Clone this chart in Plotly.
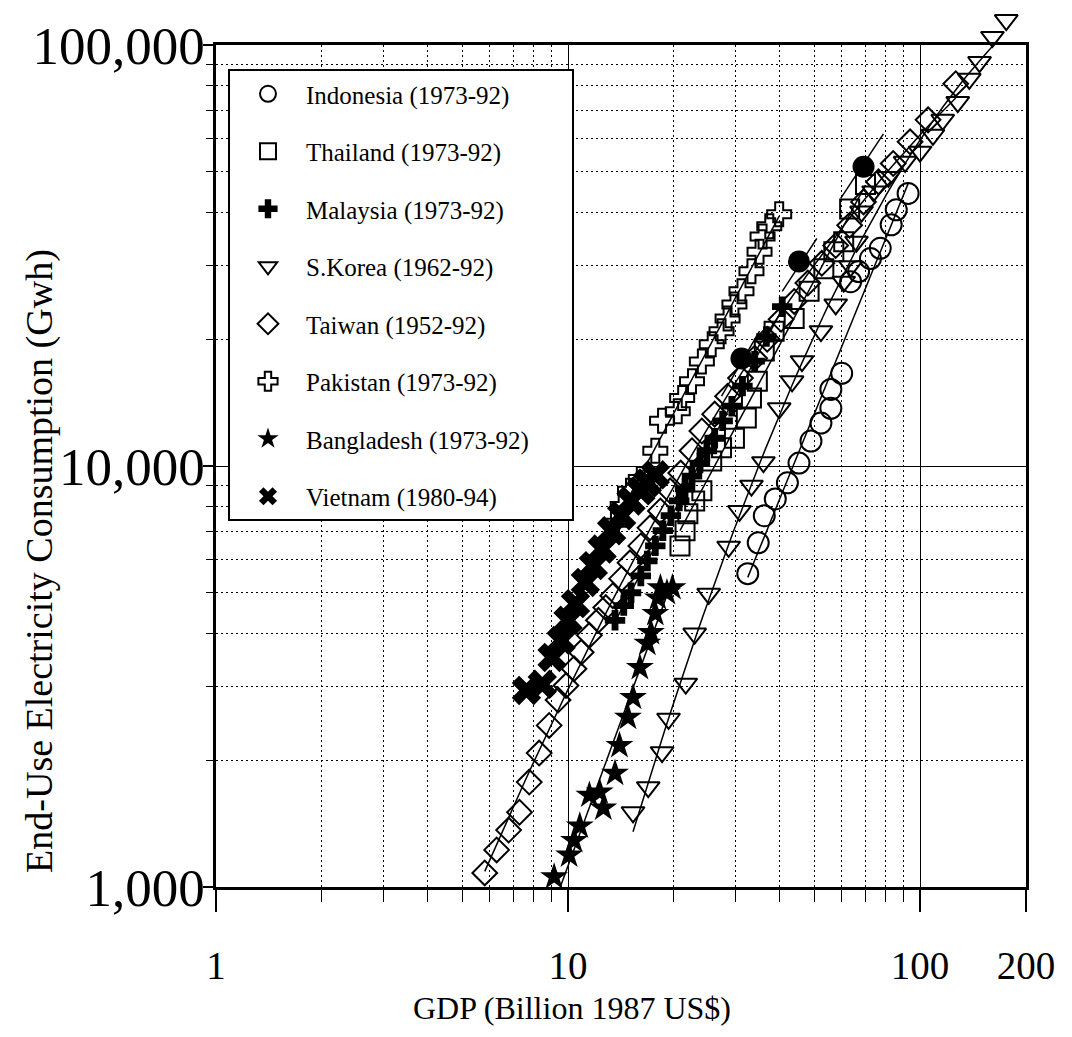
import numpy as np
import plotly.graph_objects as go

# ---------------- data (GDP in billion 1987 US$, consumption in GWh) ----------------
indonesia_gdp = [32.4, 34.7, 36.1, 38.8, 42.0, 45.3, 49.0, 52.3, 55.8, 55.8, 59.9,
                 63.5, 66.9, 72.3, 77.1, 82.8, 85.6, 92.5]
indonesia_elec = [5550, 6570, 7620, 8350, 9120, 10160, 11460, 12650, 13710, 15200, 16600,
                  27400, 28970, 31100, 32900, 37400, 40600, 44400]

thailand_gdp = [20.8, 21.5, 21.9, 22.9, 24.0, 25.6, 27.3, 29.7, 32.1, 33.2, 34.5, 36.1,
                38.5, 43.9, 48.4, 53.3, 56.9, 60.7, 63.1, 70.0]
thailand_elec = [6460, 7020, 7700, 8260, 8730, 10280, 11050, 11640, 13000, 14500, 15900,
                 18750, 20900, 22400, 26000, 29400, 32300, 34100, 40800, 46600]

malaysia_gdp = [13.6, 14.4, 15.1, 16.1, 16.8, 17.7, 18.6, 19.6, 20.7, 21.5, 22.5, 23.7,
                24.8, 26.1, 27.5, 29.2, 31.3, 33.9, 36.6, 40.6]
malaysia_elec = [4300, 4660, 5000, 5480, 5950, 6460, 7020, 7620, 8260, 8820, 9460, 10160,
                 10870, 11640, 12800, 13870, 15480, 17740, 20300, 23900]

korea_gdp = [15.3, 16.9, 18.5, 19.3, 21.6, 22.9, 25.1, 28.6, 30.7, 33.2, 35.9, 39.8, 43.3,
             46.2, 52.3, 57.6, 60.7, 63.5, 66.0, 68.2, 73.8, 81.3, 90.7, 100.0, 108.8,
             116.0, 128.0, 138.0, 147.6, 160.6, 175.8]
korea_elec = [1505, 1726, 2090, 2510, 3040, 4000, 4970, 6430, 7820, 8980, 10210, 13710,
              15890, 17740, 20900, 24200, 27400, 29800, 34100, 40200, 44900, 48600, 52800,
              55800, 61200, 66400, 73200, 83100, 91100, 104500, 114600]

taiwan_gdp = [5.80, 6.27, 6.78, 7.28, 7.76, 8.28, 8.84, 9.37, 9.87, 10.4, 10.9, 11.5, 12.2,
              12.8, 13.4, 14.2, 15.0, 16.1, 17.1, 18.3, 19.5, 20.9, 22.5, 24.0, 26.1, 28.4,
              30.9, 33.9, 36.8, 40.3, 43.9, 48.0, 52.6, 57.6, 63.1, 69.1, 76.2, 83.9, 93.7,
              105.4, 126.3]
taiwan_elec = [1080, 1225, 1365, 1505, 1775, 2080, 2420, 2780, 3010, 3300, 3610, 3960, 4300,
               4610, 4920, 5400, 5890, 6460, 7130, 7820, 8730, 9620, 10870, 12110, 13280,
               14650, 16180, 18030, 20000, 22300, 24600, 27200, 30300, 33400, 37300, 42400,
               47300, 52300, 58900, 66400, 80900]

pakistan_gdp = [13.6, 14.3, 15.0, 16.1, 17.7, 18.5, 20.5, 21.1, 22.5, 24.0, 25.6, 27.3,
                28.4, 29.7, 31.1, 33.2, 35.0, 35.7, 37.3, 39.8]
pakistan_elec = [7330, 8040, 8730, 9310, 10870, 12800, 13500, 14500, 15900, 17700, 19460,
                 20900, 22400, 24200, 26000, 29000, 32300, 35100, 37100, 39600]

bangladesh_gdp = [9.13, 10.07, 10.4, 10.8, 11.5, 12.3, 12.6, 13.6, 14.0, 14.8, 15.3, 16.0,
                  16.8, 17.2, 17.7, 18.0, 18.3, 19.1, 19.8]
bangladesh_elec = [1057, 1191, 1290, 1396, 1652, 1680, 1540, 1862, 2168, 2530, 2820, 3320,
                   3790, 4020, 4460, 4860, 5140, 5000, 5140]

vietnam_gdp = [7.62, 8.45, 9.01, 9.56, 10.0, 10.5, 11.2, 11.8, 12.5, 13.3, 14.2, 15.1,
               16.1, 16.8, 17.7]
vietnam_elec = [2930, 3030, 3510, 3850, 4300, 4710, 5290, 5800, 6350, 7020, 7620, 8260,
                8730, 9120, 9530]

# filled (unlabelled) points and the short segments through them
proj_gdp = [31.1, 45.3, 69.1]
proj_elec = [18000, 30600, 51400]
seg_gdp = [27.3, 35.0, None, 40.6, 50.9, None, 59.5, 78.7]
seg_elec = [14650, 20900, None, 26000, 34700, None, 43200, 61500]

x_tickvals = [1, 10, 100, 200]
x_ticktext = ["1", "10", "100", "200"]
y_tickvals = [1000, 10000, 100000]
y_ticktext = ["1,000", "10,000", "100,000"]
x_minor = [2, 3, 4, 5, 6, 7, 8, 9, 20, 30, 40, 50, 60, 70, 80, 90]
y_minor = [2000, 3000, 4000, 5000, 6000, 7000, 8000, 9000,
           20000, 30000, 40000, 50000, 60000, 70000, 80000, 90000]

series = [
    ("Indonesia (1973-92)", indonesia_gdp, indonesia_elec, "circle-open", 21, 1),
    ("Thailand (1973-92)", thailand_gdp, thailand_elec, "square-open", 19, 1),
    ("Malaysia (1973-92)", malaysia_gdp, malaysia_elec, "cross", 17, 1),
    ("S.Korea (1962-92)", korea_gdp, korea_elec, "triangle-down-open", 20, 2),
    ("Taiwan (1952-92)", taiwan_gdp, taiwan_elec, "diamond-open", 19, 2),
    ("Pakistan (1973-92)", pakistan_gdp, pakistan_elec, "cross-open", 20, 1),
    ("Bangladesh (1973-92)", bangladesh_gdp, bangladesh_elec, "star", 21, 1),
    ("Vietnam (1980-94)", vietnam_gdp, vietnam_elec, "x", 26, 0),
]

SERIF = "Liberation Serif, Times New Roman, serif"
LEGEND_PAD = "\u00a0" * 6   # extra room on the right of the legend box

# geometry: main panel, plus an invisible taller twin panel so the last
# S.Korea points (above 100,000) can be shown above the frame as in the original
PLOT_H = 877.0
MAIN_FRAC = 842.0 / PLOT_H
Y_LOG = [3, 5]
Y2_TOP = Y_LOG[0] + (Y_LOG[1] - Y_LOG[0]) / MAIN_FRAC
X_LOG = [0, float(np.log10(200))]

fig = go.Figure()

# fitted trend lines (log-log), drawn first so they sit under the markers
for name, gx, gy, sym, size, deg in series:
    if deg == 0:
        continue
    lx = np.log10(gx)
    ly = np.log10(gy)
    coef = np.polyfit(lx, ly, deg)
    xs = np.linspace(lx.min(), lx.max(), 60)
    ys = np.polyval(coef, xs)
    fig.add_trace(go.Scatter(x=10 ** xs, y=10 ** ys, mode="lines",
                             line=dict(color="black", width=1.5),
                             showlegend=False, hoverinfo="skip"))

fig.add_trace(go.Scatter(x=seg_gdp, y=seg_elec, mode="lines",
                         line=dict(color="black", width=1.5),
                         showlegend=False, hoverinfo="skip", connectgaps=False))

for name, gx, gy, sym, size, deg in series:
    filled = sym in ("cross", "star", "x")
    on_tall = name.startswith("S.Korea")
    fig.add_trace(go.Scatter(
        x=gx, y=gy, mode="markers", name=name + LEGEND_PAD, legendgroup=name,
        xaxis="x2" if on_tall else "x", yaxis="y2" if on_tall else "y",
        marker=dict(symbol=sym, size=size, color="black",
                    line=dict(color="black", width=0 if filled else 2)),
    ))

fig.add_trace(go.Scatter(x=proj_gdp, y=proj_elec, mode="markers", showlegend=False,
                         marker=dict(symbol="circle", size=22, color="black")))

axis_common = dict(
    type="log", showline=True, linecolor="black", linewidth=2.5, mirror=True,
    showgrid=True, gridcolor="black", gridwidth=1.3, zeroline=False,
    ticks="outside", tickcolor="black", tickwidth=1.5, automargin=False,
)

fig.update_layout(
    xaxis=dict(**axis_common, range=X_LOG, domain=[0, 1], anchor="y",
               tickvals=x_tickvals, ticktext=x_ticktext, ticklen=22,
               ticklabelstandoff=20,
               tickfont=dict(family=SERIF, color="black", size=39),
               minor=dict(tickvals=x_minor, ticks="outside", ticklen=12,
                          tickcolor="black", tickwidth=1.3,
                          showgrid=True, gridcolor="black", gridwidth=1.2,
                          griddash="2px,3px")),
    yaxis=dict(**axis_common, range=Y_LOG, domain=[0, MAIN_FRAC], anchor="x",
               tickvals=y_tickvals, ticktext=y_ticktext, ticklen=10,
               ticklabelstandoff=-12,
               tickfont=dict(family=SERIF, color="black", size=53),
               minor=dict(tickvals=y_minor, ticks="outside", ticklen=7,
                          tickcolor="black", tickwidth=1.3,
                          showgrid=True, gridcolor="black", gridwidth=1.2,
                          griddash="2px,3px")),
    xaxis2=dict(type="log", range=X_LOG, domain=[0, 1], anchor="y2",
                visible=False, showgrid=False, automargin=False),
    yaxis2=dict(type="log", range=[Y_LOG[0], Y2_TOP], domain=[0, 1], anchor="x2",
                visible=False, showgrid=False, automargin=False),
)

fig.add_annotation(text="GDP (Billion 1987 US$)", xref="paper", yref="paper",
                   x=0.4395, y=-0.1380, showarrow=False, xanchor="center", yanchor="middle",
                   font=dict(family=SERIF, size=32, color="black"))
fig.add_annotation(text="End-Use Electricity Consumption (Gwh)", xref="paper", yref="paper",
                   x=-0.2173, y=0.3718, showarrow=False, textangle=-90,
                   xanchor="center", yanchor="middle",
                   font=dict(family=SERIF, size=38, color="black"))

fig.update_layout(
    width=1072, height=1037,
    margin=dict(l=208, r=54, t=2, b=158, autoexpand=False),
    paper_bgcolor="white", plot_bgcolor="rgba(0,0,0,0)",
    showlegend=True,
    legend=dict(x=0.0148, y=0.9327, xanchor="left", yanchor="top",
                bgcolor="white", bordercolor="black", borderwidth=2,
                font=dict(family=SERIF, size=25, color="black"),
                tracegroupgap=22, itemwidth=66),
)

fig.write_html("out.html")
